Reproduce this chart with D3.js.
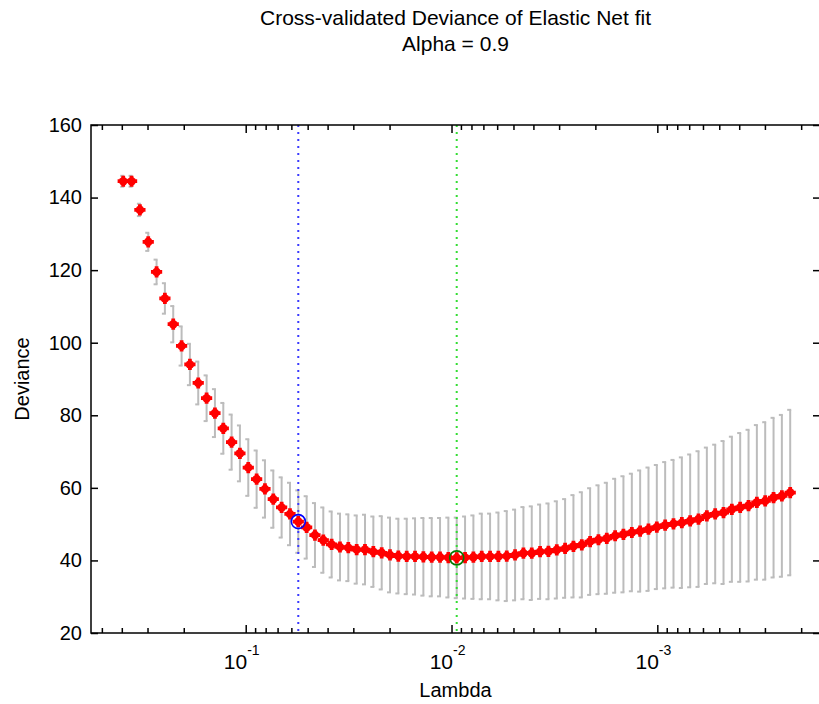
<!DOCTYPE html>
<html>
<head>
<meta charset="utf-8">
<script src="https://cdn.jsdelivr.net/npm/d3@7"></script>
<style>
body { margin: 0; background: #fff; }
text { font-family: "Liberation Sans", Arial, sans-serif; fill: #000; }
</style>
</head>
<body>
<script>
// cross-validation results, one entry per lambda
var lambda = [0.3937,0.3586,0.3267,0.2976,0.2711,0.2470,0.2250,0.2049,0.1867,0.1701,
    0.1549,0.1411,0.1285,0.1171,0.1067,0.09717,0.08851,0.08063,0.07345,0.06691,
    0.06094,0.05553,0.05058,0.04608,0.04198,0.03824,0.03483,0.03173,0.02890,0.02633,
    0.02398,0.02184,0.01990,0.01813,0.01651,0.01504,0.01370,0.01248,0.01137,0.01036,
    0.009435,0.008594,0.007829,0.007132,0.006496,0.005918,0.005391,0.004911,0.004473,0.004075,
    0.003712,0.003381,0.003080,0.002806,0.002556,0.002328,0.002121,0.001932,0.001760,0.001603,
    0.001461,0.001330,0.001212,0.001104,0.0010056,0.0009160,0.0008345,0.0007601,0.0006925,0.0006308,
    0.0005746,0.0005234,0.0004768,0.0004343,0.0003957,0.0003604,0.0003283,0.0002991,0.0002724,0.0002482,0.0002261];

var deviance = [144.5,144.5,136.6,127.8,119.5,112.2,105.1,99.1,94.0,88.9,
    84.7,80.6,76.4,72.6,69.5,65.6,62.4,59.7,56.9,54.6,
    52.8,50.7,49.1,47.0,45.6,44.4,43.7,43.5,43.0,43.0,
    42.4,42.1,41.5,41.2,41.1,41.1,41.0,40.9,40.9,40.8,
    40.7,40.8,40.9,41.1,41.1,41.1,41.2,41.5,42.0,42.0,
    42.4,42.5,42.9,43.3,43.9,44.3,45.2,45.7,46.1,46.8,
    47.2,47.7,48.1,48.6,49.2,49.7,50.1,50.4,50.9,51.4,
    52.3,52.8,53.2,54.1,54.6,55.1,56.0,56.4,57.3,57.8,58.7];

var devianceSE = [1.5,1.5,1.7,2.5,3.4,4.2,5.0,5.4,5.7,5.9,
    6.3,6.6,7.0,7.6,7.7,7.8,7.9,7.9,7.9,8.3,
    8.6,8.6,8.6,8.8,9.0,9.1,9.2,9.2,9.4,9.6,
    9.7,10.1,10.3,10.3,10.4,10.5,10.7,10.8,10.8,11.0,
    11.1,11.3,11.5,11.8,11.8,12.1,12.4,12.5,12.7,12.9,
    13.0,13.2,13.4,13.6,14.1,14.5,14.7,15.0,15.3,15.7,
    16.0,16.2,16.7,17.0,17.1,17.4,17.6,18.0,18.3,18.7,
    18.8,19.1,19.7,20.0,20.5,20.9,21.3,21.7,22.0,22.3,22.8];

var index1SE = 21,      // blue circle
    indexMinMSE = 40;   // green circle

var xLimits = [0.5646, 0.000162];
var yLimits = [20, 160];
var yTicks = [20, 40, 60, 80, 100, 120, 140, 160];
var xMajorTicks = [1e-1, 1e-2, 1e-3];
var xMinorTicks = [0.5,0.4,0.3,0.2,
    0.09,0.08,0.07,0.06,0.05,0.04,0.03,0.02,
    0.009,0.008,0.007,0.006,0.005,0.004,0.003,0.002,
    0.0009,0.0008,0.0007,0.0006,0.0005,0.0004,0.0003,0.0002];
var titleLines = ["Cross-validated Deviance of Elastic Net fit", "Alpha = 0.9"];
var xLabel = "Lambda", yLabel = "Deviance";

var margin = {top: 125, right: -1, bottom: 71, left: 91},
    width = 819 - margin.left - margin.right,
    height = 704 - margin.top - margin.bottom;

var x = d3.scaleLog()
    .domain(xLimits)
    .range([0, width]);

var y = d3.scaleLinear()
    .domain(yLimits)
    .range([height, 0]);

var root = d3.select("body").append("svg")
    .attr("width", 819)
    .attr("height", 704);

root.append("rect")
    .attr("width", 819)
    .attr("height", 704)
    .attr("fill", "#fff");

var svg = root.append("g")
    .attr("transform", "translate(" + margin.left + "," + margin.top + ")");

// title
root.selectAll(".title")
    .data(titleLines)
    .enter().append("text")
    .attr("class", "title")
    .attr("x", margin.left + width / 2)
    .attr("y", function(d, i) { return 25 + i * 26; })
    .attr("text-anchor", "middle")
    .attr("font-size", 21)
    .text(function(d) { return d; });

// error bars
var bars = svg.append("g").attr("class", "errorbars")
    .attr("stroke", "#bcbcbc")
    .attr("stroke-width", 2)
    .selectAll("g")
    .data(lambda)
    .enter().append("g");

bars.append("line")
    .attr("x1", function(d) { return x(d); })
    .attr("x2", function(d) { return x(d); })
    .attr("y1", function(d, i) { return y(deviance[i] - devianceSE[i]); })
    .attr("y2", function(d, i) { return y(deviance[i] + devianceSE[i]); });

bars.append("line")
    .attr("x1", function(d) { return x(d) - 3; })
    .attr("x2", function(d) { return x(d) + 1; })
    .attr("y1", function(d, i) { return y(deviance[i] + devianceSE[i]); })
    .attr("y2", function(d, i) { return y(deviance[i] + devianceSE[i]); });

bars.append("line")
    .attr("x1", function(d) { return x(d) - 3; })
    .attr("x2", function(d) { return x(d) + 1; })
    .attr("y1", function(d, i) { return y(deviance[i] - devianceSE[i]); })
    .attr("y2", function(d, i) { return y(deviance[i] - devianceSE[i]); });

// vertical dotted lines
svg.append("line")
    .attr("x1", x(lambda[index1SE])).attr("x2", x(lambda[index1SE]))
    .attr("y1", 0).attr("y2", height)
    .attr("stroke", "#3a3aff")
    .attr("stroke-width", 2)
    .attr("stroke-dasharray", "2,5");

svg.append("line")
    .attr("x1", x(lambda[indexMinMSE])).attr("x2", x(lambda[indexMinMSE]))
    .attr("y1", 0).attr("y2", height)
    .attr("stroke", "#33dd33")
    .attr("stroke-width", 2)
    .attr("stroke-dasharray", "2,5");

// red markers
var markers = svg.append("g").attr("fill", "#ff0000")
    .selectAll("g")
    .data(lambda)
    .enter().append("g")
    .attr("transform", function(d, i) { return "translate(" + x(d) + "," + y(deviance[i]) + ")"; });

markers.append("circle").attr("r", 4.3);
markers.append("path").attr("d", d3.symbol().type(d3.symbolCross).size(70));

// highlighted points
svg.append("circle")
    .attr("cx", x(lambda[index1SE]))
    .attr("cy", y(deviance[index1SE]))
    .attr("r", 7)
    .attr("fill", "none")
    .attr("stroke", "#0000ff")
    .attr("stroke-width", 1.6);

svg.append("circle")
    .attr("cx", x(lambda[indexMinMSE]))
    .attr("cy", y(deviance[indexMinMSE]))
    .attr("r", 7)
    .attr("fill", "none")
    .attr("stroke", "#007a00")
    .attr("stroke-width", 1.6);

// axes box
svg.append("rect")
    .attr("width", width)
    .attr("height", height)
    .attr("fill", "none")
    .attr("stroke", "#000")
    .attr("stroke-width", 1.5);

function tickStyle(g) {
    g.select(".domain").remove();
    g.selectAll(".tick line").attr("stroke", "#000").attr("stroke-width", 1.5);
}

// x minor ticks, bottom and top
svg.append("g")
    .attr("transform", "translate(0," + height + ")")
    .call(d3.axisBottom(x).tickValues(xMinorTicks).tickSize(-5).tickFormat(""))
    .call(tickStyle);
svg.append("g")
    .call(d3.axisTop(x).tickValues(xMinorTicks).tickSize(-5).tickFormat(""))
    .call(tickStyle);

// x major ticks
svg.append("g")
    .call(d3.axisTop(x).tickValues(xMajorTicks).tickSize(-8).tickFormat(""))
    .call(tickStyle);

var xAxis = svg.append("g")
    .attr("transform", "translate(0," + height + ")")
    .call(d3.axisBottom(x).tickValues(xMajorTicks).tickSize(-8))
    .call(tickStyle);

xAxis.selectAll(".tick text").remove();
xAxis.selectAll(".tick").each(function(d) {
    var t = d3.select(this);
    t.append("text")
        .attr("x", 1)
        .attr("y", 36)
        .attr("text-anchor", "end")
        .attr("font-size", 21)
        .text("10");
    t.append("text")
        .attr("x", 1)
        .attr("y", 22)
        .attr("text-anchor", "start")
        .attr("font-size", 14)
        .text(Math.round(Math.log10(d)));
});

// y ticks, left and right
var yAxis = svg.append("g")
    .call(d3.axisLeft(y).tickValues(yTicks).tickSize(-7).tickPadding(9))
    .call(tickStyle);

yAxis.selectAll(".tick text")
    .attr("font-size", 20)
    .attr("fill", "#000")
    .attr("font-family", null);

svg.append("g")
    .attr("transform", "translate(" + width + ",0)")
    .call(d3.axisRight(y).tickValues(yTicks).tickSize(-7).tickFormat(""))
    .call(tickStyle);

// axis labels
root.append("text")
    .attr("x", margin.left + width / 2)
    .attr("y", 697)
    .attr("text-anchor", "middle")
    .attr("font-size", 20)
    .text(xLabel);

root.append("text")
    .attr("transform", "translate(29," + (margin.top + height / 2) + ") rotate(-90)")
    .attr("text-anchor", "middle")
    .attr("font-size", 20)
    .text(yLabel);
</script>
</body>
</html>
